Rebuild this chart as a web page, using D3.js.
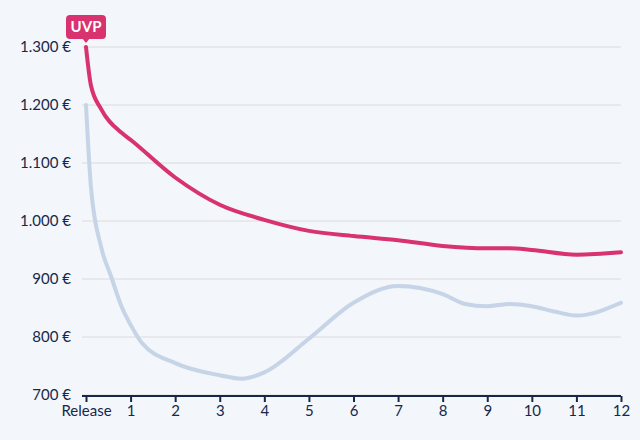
<!DOCTYPE html>
<meta charset="utf-8">
<style>
    body { margin: 0; background: #f3f6fa; }
    svg { display: block; font-family: Lato, "Open Sans", sans-serif; }
    .grid line { stroke: #dadcde; stroke-width: 1px; }
    .axis--x path, .axis--x line { stroke: #16284a; stroke-width: 2px; }
    .axis text { fill: #16284a; font-size: 15px; font-family: Lato, sans-serif; }
    .line { fill: none; stroke-width: 4px; stroke-linejoin: round; stroke-linecap: round; }
</style>
<svg width="640" height="440"></svg>
<script src="https://cdn.jsdelivr.net/npm/d3@7"></script>
<script>

    // months since release
    var uvpSteps = [0, 0.11, 0.34, 0.8, 1, 2, 3, 4, 5, 6, 7, 8, 9, 9.5, 10, 11, 12];
    var uvpPrice = [1300, 1234, 1193, 1152, 1140, 1075, 1028, 1002, 983, 974, 967, 957, 953, 953, 950, 942, 946];

    var marketSteps = [0, 0.11, 0.34, 0.57, 0.8, 1.03, 1.25, 2, 3, 3.5, 4, 5, 6, 7, 8, 8.5, 9, 9.5, 10, 10.5, 11, 12];
    var marketPrice = [1200, 1059, 955, 903, 852, 817, 790, 755, 734, 728, 739, 797, 859, 888, 874, 857, 853, 857, 853, 844, 837, 859];

    var yTicks = [700, 800, 900, 1000, 1100, 1200, 1300];
    var xTicks = [0, 1, 2, 3, 4, 5, 6, 7, 8, 9, 10, 11, 12];

    var svg = d3.select("svg"),
        margin = {top: 47, right: 19, bottom: 45, left: 86},
        width = +svg.attr("width") - margin.left - margin.right,
        height = +svg.attr("height") - margin.top - margin.bottom;

    var de = d3.formatLocale({decimal: ",", thousands: ".", grouping: [3], currency: ["", " €"]});
    var euro = de.format("$,.0f");

    var x = d3.scaleLinear().domain([0, 12]).range([margin.left, margin.left + width]),
        y = d3.scaleLinear().domain([700, 1300]).range([margin.top + height, margin.top]);

    // grid
    svg.append("g")
        .attr("class", "grid")
        .selectAll("line")
        .data(yTicks)
        .enter().append("line")
        .attr("x1", x(0) - 4)
        .attr("x2", x(12))
        .attr("y1", function(d) { return y(d); })
        .attr("y2", function(d) { return y(d); });

    // y labels
    var yAxis = svg.append("g")
        .attr("class", "axis axis--y")
        .attr("transform", "translate(" + (x(0) - 15) + ",0)")
        .call(d3.axisLeft(y).tickValues(yTicks).tickFormat(euro).tickSize(0).tickPadding(0));
    yAxis.select(".domain").remove();

    var xAxis = svg.append("g")
        .attr("class", "axis axis--x")
        .attr("transform", "translate(0," + (y(700) + 1) + ")")
        .call(d3.axisBottom(x).tickValues(xTicks).tickSizeOuter(0).tickSizeInner(6).tickPadding(3)
            .tickFormat(function(d) { return d === 0 ? "Release" : d; }));
    xAxis.select(".domain").attr("d", "M" + (x(0) - 4) + ",0H" + x(12));

    var line = d3.line()
        .curve(d3.curveMonotoneX)
        .x(function(d) { return x(d[0]); })
        .y(function(d) { return y(d[1]); });

    svg.append("path")
        .attr("class", "line")
        .attr("d", line(d3.zip(marketSteps, marketPrice)))
        .style("stroke", "#c5d4e6");

    svg.append("path")
        .attr("class", "line")
        .attr("d", line(d3.zip(uvpSteps, uvpPrice)))
        .style("stroke", "#d8336f");

    // UVP flag
    var fx = x(0), fy = y(1300);
    var flag = svg.append("g").attr("transform", "translate(" + fx + "," + fy + ")");
    flag.append("rect")
        .attr("x", -20).attr("y", -32)
        .attr("width", 40).attr("height", 24)
        .attr("rx", 4)
        .attr("fill", "#d8336f");
    flag.append("path")
        .attr("d", "M-4,-9L0,-4L4,-9Z")
        .attr("fill", "#d8336f");
    flag.append("text")
        .attr("y", -15)
        .attr("text-anchor", "middle")
        .attr("fill", "#fff")
        .style("font", "bold 15px Lato, sans-serif")
        .text("UVP");

</script>
